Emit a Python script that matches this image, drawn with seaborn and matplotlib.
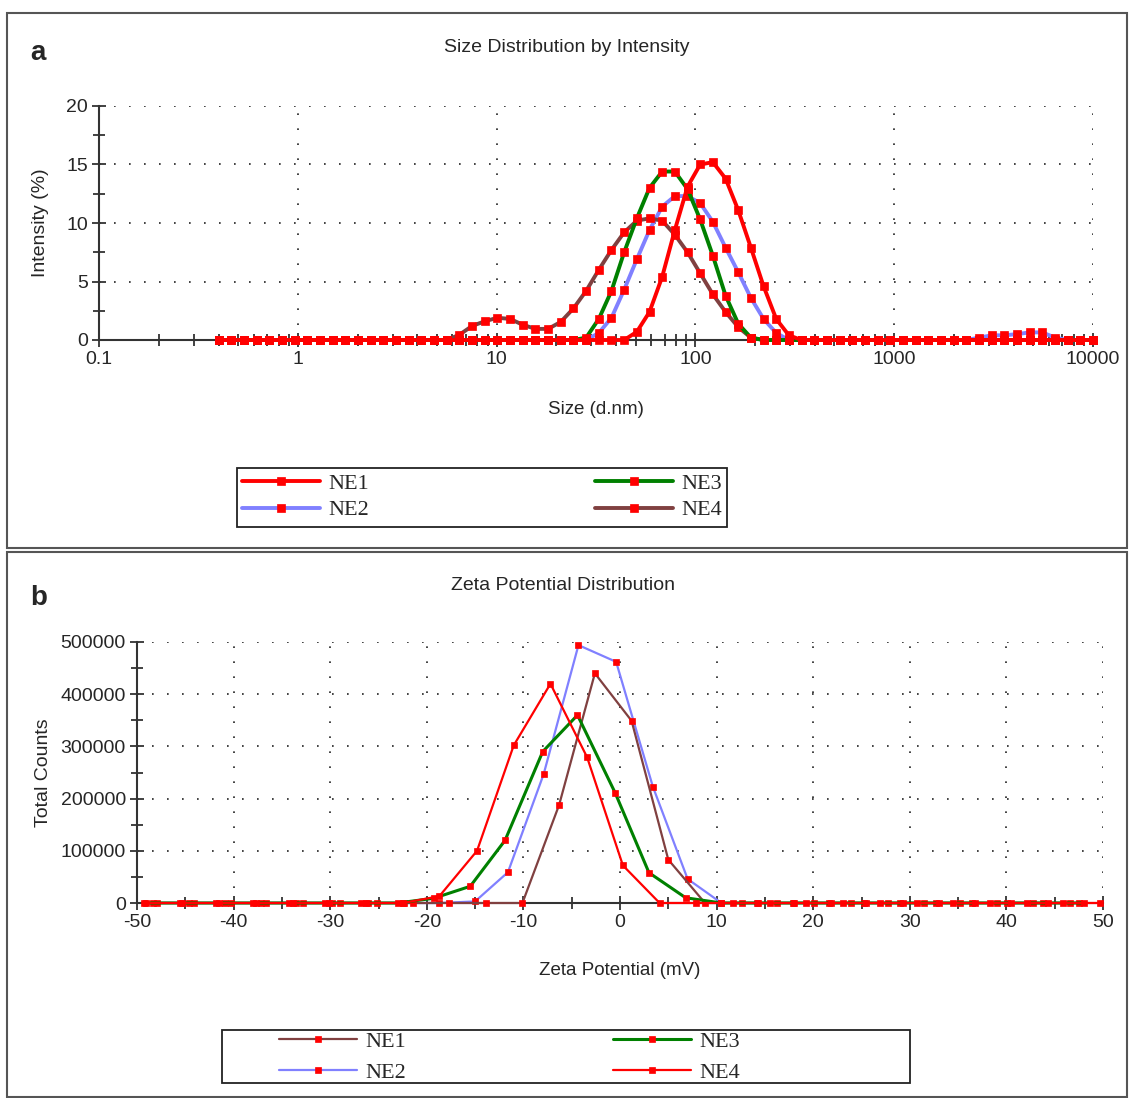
import matplotlib
matplotlib.use("Agg")
import matplotlib.pyplot as plt
import matplotlib.ticker as mticker
from matplotlib.patches import Rectangle
import seaborn as sns

sns.set_style("white")
plt.rcParams['font.family'] = ['Liberation Sans', 'DejaVu Sans']
plt.rcParams['axes.unicode_minus'] = False

# ---- panel a: size distribution by intensity ----
size_nm = [0.4, 0.4632, 0.5365, 0.6213, 0.7195, 0.8332, 0.9649, 1.117, 1.294, 1.499,
           1.736, 2.01, 2.328, 2.696, 3.122, 3.615, 4.187, 4.849, 5.615, 6.503,
           7.531, 8.721, 10.1, 11.7, 13.54, 15.69, 18.17, 21.04, 24.36, 28.21,
           32.67, 37.84, 43.82, 50.75, 58.77, 68.06, 78.82, 91.28, 105.7, 122.4,
           141.8, 164.2, 190.1, 220.2, 255.0, 295.3, 342.0, 396.1, 458.7, 531.2,
           615.1, 712.4, 825.0, 955.4, 1106, 1281, 1484, 1718, 1990, 2305,
           2669, 3091, 3580, 4145, 4801, 5560, 6439, 7456, 8635, 10000]

int_ne1 = [0, 0, 0, 0, 0, 0, 0, 0, 0, 0,
           0, 0, 0, 0, 0, 0, 0, 0, 0, 0,
           0, 0, 0, 0, 0, 0, 0, 0, 0, 0,
           0, 0, 0, 0.7, 2.4, 5.4, 9.4, 13.1, 15.0, 15.2,
           13.8, 11.1, 7.9, 4.6, 1.8, 0.4, 0, 0, 0, 0,
           0, 0, 0, 0, 0, 0, 0, 0, 0, 0,
           0, 0, 0, 0, 0, 0, 0, 0, 0, 0]
int_ne2 = [0, 0, 0, 0, 0, 0, 0, 0, 0, 0,
           0, 0, 0, 0, 0, 0, 0, 0, 0, 0,
           0, 0, 0, 0, 0, 0, 0, 0, 0, 0,
           0.6, 1.9, 4.3, 6.9, 9.4, 11.4, 12.3, 12.3, 11.7, 10.1,
           7.9, 5.8, 3.6, 1.8, 0.6, 0, 0, 0, 0, 0,
           0, 0, 0, 0, 0, 0, 0, 0, 0, 0,
           0.2, 0.4, 0.4, 0.5, 0.65, 0.65, 0.2, 0, 0, 0]
int_ne3 = [0, 0, 0, 0, 0, 0, 0, 0, 0, 0,
           0, 0, 0, 0, 0, 0, 0, 0, 0, 0,
           0, 0, 0, 0, 0, 0, 0, 0, 0, 0.2,
           1.8, 4.2, 7.5, 10.4, 13.0, 14.4, 14.4, 12.9, 10.3, 7.2,
           3.8, 1.4, 0.2, 0, 0, 0, 0, 0, 0, 0,
           0, 0, 0, 0, 0, 0, 0, 0, 0, 0,
           0, 0, 0, 0, 0, 0, 0, 0, 0, 0]
int_ne4 = [0, 0, 0, 0, 0, 0, 0, 0, 0, 0,
           0, 0, 0, 0, 0, 0, 0, 0, 0, 0.45,
           1.2, 1.6, 1.9, 1.8, 1.3, 0.95, 0.95, 1.55, 2.7, 4.2,
           6.0, 7.7, 9.2, 10.2, 10.4, 10.2, 9.0, 7.5, 5.7, 3.9,
           2.4, 1.1, 0.2, 0, 0, 0, 0, 0, 0, 0,
           0, 0, 0, 0, 0, 0, 0, 0, 0, 0,
           0, 0, 0, 0, 0, 0, 0, 0, 0, 0]

# ---- panel b: zeta potential distribution ----
zeta_ne1 = [-47.9, -44.1, -40.3, -36.6, -32.8, -29.0, -25.2, -21.4, -17.7, -13.9,
            -10.1, -6.3, -2.6, 1.2, 5.0, 8.8, 12.6, 16.3, 20.1, 23.9,
            27.7, 31.5, 35.2, 39.0, 42.8, 46.6]
cnt_ne1 = [0, 0, 0, 0, 0, 0, 0, 0, 0, 0,
           0, 188000, 440000, 349000, 83000, 0, 0, 0, 0, 0,
           0, 0, 0, 0, 0, 0]
zeta_ne2 = [-48.3, -44.6, -40.9, -37.2, -33.5, -29.8, -26.1, -22.4, -18.7, -15.0,
            -11.6, -7.9, -4.3, -0.4, 3.4, 7.0, 10.5, 14.2, 17.9, 21.6,
            25.3, 29.0, 32.7, 36.4, 40.1, 43.8, 47.5]
cnt_ne2 = [0, 0, 0, 0, 0, 0, 0, 0, 0, 3000,
           59000, 247000, 494000, 462000, 223000, 46000, 0, 0, 0, 0,
           0, 0, 0, 0, 0, 0, 0]
zeta_ne3 = [-49.3, -45.5, -41.8, -38.0, -34.3, -30.5, -26.8, -23.0, -19.3, -15.5,
            -11.9, -8.0, -4.4, -0.5, 3.0, 6.8, 10.5, 14.3, 18.0, 21.8,
            25.5, 29.3, 33.0, 36.8, 40.5, 44.3, 48.0]
cnt_ne3 = [0, 0, 0, 0, 0, 0, 0, 0, 9000, 32000,
           120000, 290000, 360000, 211000, 58000, 10000, 0, 0, 0, 0,
           0, 0, 0, 0, 0, 0, 0]
zeta_ne4 = [-49.1, -45.3, -41.5, -37.7, -33.9, -30.1, -26.3, -22.5, -18.7, -14.8,
            -11.0, -7.2, -3.4, 0.3, 4.1, 7.9, 11.7, 15.5, 19.3, 23.1,
            26.9, 30.7, 34.5, 38.3, 42.1, 45.9, 49.7]
cnt_ne4 = [0, 0, 0, 0, 0, 0, 0, 0, 13000, 100000,
           302000, 420000, 279000, 72000, 0, 0, 0, 0, 0, 0,
           0, 0, 0, 0, 0, 0, 0]

names = ["NE1", "NE2", "NE3", "NE4"]
RED, BLUE, GREEN, BROWN = "#ff0000", "#8080ff", "#008000", "#804040"

W, H = 1129, 1098
fig = plt.figure(figsize=(W / 100, H / 100), dpi=100)

def fx(px):
    return px / W

def fy(py):
    return 1 - py / H

# panel frames
for top, bot in [(13, 548), (552, 1097)]:
    fig.patches.append(Rectangle((fx(7), fy(bot)), fx(1127) - fx(7), fy(top) - fy(bot),
                                 transform=fig.transFigure, fill=False,
                                 edgecolor="#555555", linewidth=1.5))

ax_a = fig.add_axes([fx(99), fy(340), fx(1093) - fx(99), fy(106) - fy(340)])
ax_b = fig.add_axes([fx(137), fy(903), fx(1103) - fx(137), fy(642) - fy(903)])

mk = dict(marker="s", markerfacecolor=RED, markeredgecolor=RED, markeredgewidth=0.5,
          clip_on=False)

# panel a
series_a = [(int_ne1, RED, 5), (int_ne2, BLUE, 2), (int_ne3, GREEN, 4), (int_ne4, BROWN, 3)]
for name, (vals, col, z) in zip(names, series_a):
    sns.lineplot(x=size_nm, y=vals, ax=ax_a, color=col, linewidth=2.8, markersize=5.5,
                 label=name, zorder=z, **mk)
ax_a.set_xscale("log")
ax_a.set_xlim(0.1, 10000)
ax_a.set_ylim(0, 20)
ax_a.xaxis.set_major_locator(mticker.LogLocator(base=10, numticks=10))
ax_a.xaxis.set_minor_locator(mticker.LogLocator(base=10, subs=range(2, 10), numticks=20))
ax_a.xaxis.set_major_formatter(mticker.FuncFormatter(lambda v, p: "%g" % v))
ax_a.xaxis.set_minor_formatter(mticker.NullFormatter())
ax_a.yaxis.set_major_locator(mticker.MultipleLocator(5))
ax_a.yaxis.set_minor_locator(mticker.MultipleLocator(2.5))
ax_a.set_xlabel("Size (d.nm)", fontsize=13.5, labelpad=24)
ax_a.set_ylabel("Intensity (%)", fontsize=14, labelpad=12)

# panel b
series_b = [(zeta_ne1, cnt_ne1, BROWN, 1.6, 3), (zeta_ne2, cnt_ne2, BLUE, 1.6, 2),
            (zeta_ne3, cnt_ne3, GREEN, 2.2, 4), (zeta_ne4, cnt_ne4, RED, 1.6, 5)]
for name, (xs, ys, col, lw, z) in zip(names, series_b):
    sns.lineplot(x=xs, y=ys, ax=ax_b, color=col, linewidth=lw, markersize=5,
                 label=name, zorder=z, **mk)
ax_b.set_xlim(-50, 50)
ax_b.set_ylim(0, 500000)
ax_b.xaxis.set_major_locator(mticker.MultipleLocator(10))
ax_b.xaxis.set_minor_locator(mticker.MultipleLocator(5))
ax_b.yaxis.set_major_locator(mticker.MultipleLocator(100000))
ax_b.yaxis.set_minor_locator(mticker.MultipleLocator(50000))
ax_b.yaxis.set_major_formatter(mticker.FuncFormatter(lambda v, p: "%d" % v))
ax_b.set_xlabel("Zeta Potential (mV)", fontsize=13.5, labelpad=22)
ax_b.set_ylabel("Total Counts", fontsize=14, labelpad=6)

for ax in (ax_a, ax_b):
    ax.grid(True, which="major", linestyle=(0, (1, 8)), color="#222222", linewidth=1.2)
    ax.set_axisbelow(True)
    for s in ("top", "right"):
        ax.spines[s].set_visible(False)
    for s in ("left", "bottom"):
        ax.spines[s].set_color("#333333")
        ax.spines[s].set_linewidth(1.5)
    ax.tick_params(which="both", direction="inout", bottom=True, left=True,
                   color="#333333", width=1.3, labelsize=14, pad=3)
    ax.tick_params(which="major", length=10)
    ax.tick_params(which="minor", length=8)
    if ax.get_legend() is not None:
        ax.get_legend().remove()

# titles and panel letters
fig.text(fx(567), fy(47), "Size Distribution by Intensity", ha="center", va="center", fontsize=14)
fig.text(fx(563), fy(585), "Zeta Potential Distribution", ha="center", va="center", fontsize=14)
fig.text(fx(30), fy(53), "a", ha="left", va="center", fontsize=20, fontweight="bold")
fig.text(fx(30), fy(598), "b", ha="left", va="center", fontsize=20, fontweight="bold")

# legends
legend_font = {"family": ["Liberation Serif", "DejaVu Serif"], "size": 16}
for ax, box, anchor, cspace, lspace in [
        (ax_a, (237, 468, 727, 527), (242, 497), 10.15, 0.25),
        (ax_b, (222, 1030, 910, 1083), (279, 1057), 9.3, 0.45)]:
    h, l = ax.get_legend_handles_labels()
    fig.legend(h, l, loc="center left", bbox_to_anchor=(fx(anchor[0]), fy(anchor[1])),
               ncol=2, frameon=False, prop=legend_font, handlelength=3.5,
               handletextpad=0.4, columnspacing=cspace, labelspacing=lspace,
               borderpad=0, borderaxespad=0)
    x0, y0, x1, y1 = box
    fig.patches.append(Rectangle((fx(x0), fy(y1)), fx(x1) - fx(x0), fy(y0) - fy(y1),
                                 transform=fig.transFigure, fill=False,
                                 edgecolor="#222222", linewidth=1.3))

fig.savefig("out.png", dpi=100)
